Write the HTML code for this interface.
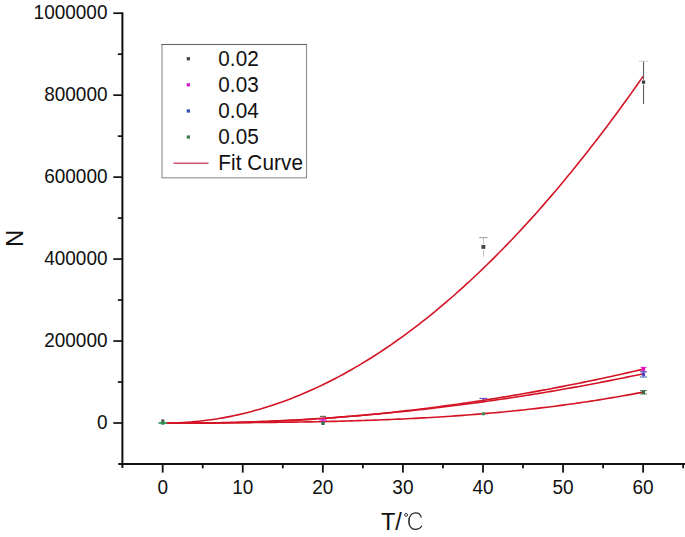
<!DOCTYPE html>
<html><head><meta charset="utf-8"><style>
html,body{margin:0;padding:0;background:#fff;}
body{width:685px;height:537px;overflow:hidden;position:relative;}
svg{position:absolute;left:0;top:0;}
text{font-family:"Liberation Sans",sans-serif;fill:#111;}
.yl{font-size:19px;text-anchor:end;}
.xl{font-size:19px;text-anchor:middle;}
.lg{font-size:20.7px;letter-spacing:0.1px;}
.yt{font-size:24px;text-anchor:middle;}
.xt{font-size:23.5px;}
</style></head><body>
<svg width="685" height="537" viewBox="0 0 685 537">
<rect x="121.4" y="12.3" width="2" height="455.6" fill="#111"/>
<rect x="118.3" y="463" width="567" height="2" fill="#111"/>
<rect x="113.3" y="422.15" width="9" height="1.7" fill="#111"/>
<text transform="translate(107.5,428.60) scale(1,1.055)" class="yl">0</text>
<rect x="117.8" y="381.17" width="4.5" height="1.7" fill="#111"/>
<rect x="113.3" y="340.19" width="9" height="1.7" fill="#111"/>
<text transform="translate(107.5,346.64) scale(1,1.055)" class="yl">200000</text>
<rect x="117.8" y="299.21" width="4.5" height="1.7" fill="#111"/>
<rect x="113.3" y="258.23" width="9" height="1.7" fill="#111"/>
<text transform="translate(107.5,264.68) scale(1,1.055)" class="yl">400000</text>
<rect x="117.8" y="217.25" width="4.5" height="1.7" fill="#111"/>
<rect x="113.3" y="176.27" width="9" height="1.7" fill="#111"/>
<text transform="translate(107.5,182.72) scale(1,1.055)" class="yl">600000</text>
<rect x="117.8" y="135.29" width="4.5" height="1.7" fill="#111"/>
<rect x="113.3" y="94.31" width="9" height="1.7" fill="#111"/>
<text transform="translate(107.5,100.76) scale(1,1.055)" class="yl">800000</text>
<rect x="117.8" y="53.33" width="4.5" height="1.7" fill="#111"/>
<rect x="113.3" y="12.35" width="9" height="1.7" fill="#111"/>
<text transform="translate(107.5,18.80) scale(1,1.055)" class="yl">1000000</text>
<rect x="161.80" y="464" width="1.8" height="8.6" fill="#111"/>
<text transform="translate(162.70,494) scale(1,1.055)" class="xl">0</text>
<rect x="201.83" y="464" width="1.8" height="4.3" fill="#111"/>
<rect x="241.87" y="464" width="1.8" height="8.6" fill="#111"/>
<text transform="translate(242.77,494) scale(1,1.055)" class="xl">10</text>
<rect x="281.90" y="464" width="1.8" height="4.3" fill="#111"/>
<rect x="321.94" y="464" width="1.8" height="8.6" fill="#111"/>
<text transform="translate(322.84,494) scale(1,1.055)" class="xl">20</text>
<rect x="361.98" y="464" width="1.8" height="4.3" fill="#111"/>
<rect x="402.01" y="464" width="1.8" height="8.6" fill="#111"/>
<text transform="translate(402.91,494) scale(1,1.055)" class="xl">30</text>
<rect x="442.05" y="464" width="1.8" height="4.3" fill="#111"/>
<rect x="482.08" y="464" width="1.8" height="8.6" fill="#111"/>
<text transform="translate(482.98,494) scale(1,1.055)" class="xl">40</text>
<rect x="522.12" y="464" width="1.8" height="4.3" fill="#111"/>
<rect x="562.15" y="464" width="1.8" height="8.6" fill="#111"/>
<text transform="translate(563.05,494) scale(1,1.055)" class="xl">50</text>
<rect x="602.19" y="464" width="1.8" height="4.3" fill="#111"/>
<rect x="642.22" y="464" width="1.8" height="8.6" fill="#111"/>
<text transform="translate(643.12,494) scale(1,1.055)" class="xl">60</text>
<rect x="682.25" y="464" width="1.8" height="4.3" fill="#111"/>
<text transform="translate(23.2,238.4) rotate(-90)" class="yt">N</text>
<text x="381" y="529.6" class="xt">T/</text>
<circle cx="406.1" cy="514.9" r="1.45" fill="none" stroke="#333" stroke-width="1.0"/>
<path d="M421.3,517.6 C420.8,514.5 418.3,512.9 415.3,512.9 C411.2,512.9 408.8,516.6 408.8,521.2 C408.8,526.0 411.4,529.4 415.2,529.4 C418.4,529.4 420.6,528.0 421.8,525.8" fill="none" stroke="#222" stroke-width="1.15"/>
<path d="M409.3,518 C409.1,520 409.1,522.5 409.3,524.5" fill="none" stroke="#222" stroke-width="0.8"/>
<rect x="162" y="44.5" width="144.5" height="133.3" fill="#fff" stroke="#8c8c8c" stroke-width="1.1"/>
<rect x="161.5" y="44" width="145.5" height="1" fill="#646464"/>
<rect x="186.7" y="57.10" width="3.3" height="3.3" fill="#454545"/>
<text transform="translate(218.2,65.70) scale(1,1.04)" class="lg">0.02</text>
<rect x="186.7" y="83.20" width="3.3" height="3.3" fill="#cc22cc"/>
<text transform="translate(218.2,91.70) scale(1,1.04)" class="lg">0.03</text>
<rect x="186.7" y="109.30" width="3.3" height="3.3" fill="#3355bb"/>
<text transform="translate(218.2,117.70) scale(1,1.04)" class="lg">0.04</text>
<rect x="186.7" y="135.40" width="3.3" height="3.3" fill="#3f7f55"/>
<text transform="translate(218.2,143.70) scale(1,1.04)" class="lg">0.05</text>
<rect x="173.5" y="162.6" width="35" height="1.2" fill="#c23050"/>
<text transform="translate(218.2,169.7) scale(1,1.04)" class="lg">Fit Curve</text>
<path d="M162.70,423.00 L166.70,423.00 L170.71,422.96 L174.71,422.87 L178.71,422.72 L182.72,422.53 L186.72,422.28 L190.72,421.99 L194.73,421.65 L198.73,421.26 L202.73,420.82 L206.74,420.33 L210.74,419.79 L214.75,419.20 L218.75,418.56 L222.75,417.87 L226.76,417.13 L230.76,416.35 L234.76,415.51 L238.77,414.63 L242.77,413.69 L246.77,412.71 L250.78,411.68 L254.78,410.60 L258.78,409.47 L262.79,408.29 L266.79,407.06 L270.79,405.78 L274.80,404.45 L278.80,403.08 L282.80,401.65 L286.81,400.18 L290.81,398.66 L294.82,397.09 L298.82,395.47 L302.82,393.80 L306.83,392.08 L310.83,390.32 L314.83,388.50 L318.84,386.64 L322.84,384.73 L326.84,382.77 L330.85,380.76 L334.85,378.70 L338.85,376.59 L342.86,374.44 L346.86,372.23 L350.86,369.98 L354.87,367.68 L358.87,365.33 L362.88,362.93 L366.88,360.49 L370.88,358.00 L374.89,355.45 L378.89,352.86 L382.89,350.22 L386.90,347.54 L390.90,344.80 L394.90,342.02 L398.91,339.18 L402.91,336.30 L406.91,333.38 L410.92,330.40 L414.92,327.38 L418.92,324.30 L422.93,321.18 L426.93,318.02 L430.93,314.80 L434.94,311.53 L438.94,308.22 L442.94,304.86 L446.95,301.45 L450.95,298.00 L454.96,294.49 L458.96,290.94 L462.96,287.34 L466.97,283.70 L470.97,280.00 L474.97,276.26 L478.98,272.47 L482.98,268.63 L486.98,264.75 L490.99,260.81 L494.99,256.83 L498.99,252.80 L503.00,248.73 L507.00,244.61 L511.00,240.44 L515.01,236.22 L519.01,231.95 L523.01,227.64 L527.02,223.28 L531.02,218.87 L535.03,214.42 L539.03,209.91 L543.03,205.37 L547.04,200.77 L551.04,196.12 L555.04,191.43 L559.05,186.70 L563.05,181.91 L567.05,177.08 L571.06,172.20 L575.06,167.27 L579.06,162.30 L583.07,157.28 L587.07,152.21 L591.07,147.10 L595.08,141.93 L599.08,136.73 L603.09,131.47 L607.09,126.17 L611.09,120.82 L615.10,115.42 L619.10,109.98 L623.10,104.49 L627.11,98.96 L631.11,93.37 L635.11,87.74 L639.12,82.07 L643.12,76.34" fill="none" stroke="#d41424" stroke-width="1.6"/>
<path d="M162.70,423.00 L166.70,423.00 L170.71,423.00 L174.71,423.00 L178.71,423.00 L182.72,423.00 L186.72,423.23 L190.72,423.23 L194.73,423.23 L198.73,423.22 L202.73,423.20 L206.74,423.17 L210.74,423.13 L214.75,423.08 L218.75,423.03 L222.75,422.96 L226.76,422.89 L230.76,422.81 L234.76,422.72 L238.77,422.62 L242.77,422.51 L246.77,422.39 L250.78,422.27 L254.78,422.13 L258.78,421.99 L262.79,421.84 L266.79,421.68 L270.79,421.51 L274.80,421.33 L278.80,421.14 L282.80,420.94 L286.81,420.74 L290.81,420.53 L294.82,420.31 L298.82,420.08 L302.82,419.84 L306.83,419.59 L310.83,419.33 L314.83,419.07 L318.84,418.80 L322.84,418.52 L326.84,418.23 L330.85,417.93 L334.85,417.62 L338.85,417.30 L342.86,416.98 L346.86,416.65 L350.86,416.31 L354.87,415.96 L358.87,415.60 L362.88,415.23 L366.88,414.86 L370.88,414.47 L374.89,414.08 L378.89,413.68 L382.89,413.27 L386.90,412.86 L390.90,412.43 L394.90,412.00 L398.91,411.55 L402.91,411.10 L406.91,410.64 L410.92,410.18 L414.92,409.70 L418.92,409.22 L422.93,408.73 L426.93,408.23 L430.93,407.72 L434.94,407.20 L438.94,406.68 L442.94,406.14 L446.95,405.60 L450.95,405.05 L454.96,404.49 L458.96,403.93 L462.96,403.35 L466.97,402.77 L470.97,402.18 L474.97,401.58 L478.98,400.97 L482.98,400.36 L486.98,399.74 L490.99,399.10 L494.99,398.46 L498.99,397.82 L503.00,397.16 L507.00,396.50 L511.00,395.83 L515.01,395.15 L519.01,394.46 L523.01,393.76 L527.02,393.06 L531.02,392.35 L535.03,391.63 L539.03,390.90 L543.03,390.16 L547.04,389.42 L551.04,388.67 L555.04,387.91 L559.05,387.14 L563.05,386.37 L567.05,385.58 L571.06,384.79 L575.06,383.99 L579.06,383.19 L583.07,382.37 L587.07,381.55 L591.07,380.72 L595.08,379.88 L599.08,379.03 L603.09,378.18 L607.09,377.32 L611.09,376.45 L615.10,375.57 L619.10,374.68 L623.10,373.79 L627.11,372.89 L631.11,371.98 L635.11,371.07 L639.12,370.14 L643.12,369.21" fill="none" stroke="#d41424" stroke-width="1.6"/>
<path d="M162.70,423.00 L166.70,423.00 L170.71,423.00 L174.71,423.00 L178.71,423.00 L182.72,423.00 L186.72,423.04 L190.72,423.02 L194.73,422.99 L198.73,422.96 L202.73,422.92 L206.74,422.87 L210.74,422.81 L214.75,422.75 L218.75,422.68 L222.75,422.60 L226.76,422.51 L230.76,422.42 L234.76,422.32 L238.77,422.21 L242.77,422.10 L246.77,421.98 L250.78,421.85 L254.78,421.71 L258.78,421.57 L262.79,421.41 L266.79,421.26 L270.79,421.09 L274.80,420.92 L278.80,420.74 L282.80,420.55 L286.81,420.35 L290.81,420.15 L294.82,419.94 L298.82,419.72 L302.82,419.50 L306.83,419.27 L310.83,419.03 L314.83,418.78 L318.84,418.53 L322.84,418.27 L326.84,418.00 L330.85,417.72 L334.85,417.44 L338.85,417.15 L342.86,416.85 L346.86,416.55 L350.86,416.23 L354.87,415.91 L358.87,415.59 L362.88,415.25 L366.88,414.91 L370.88,414.56 L374.89,414.21 L378.89,413.84 L382.89,413.47 L386.90,413.10 L390.90,412.71 L394.90,412.32 L398.91,411.92 L402.91,411.51 L406.91,411.10 L410.92,410.68 L414.92,410.25 L418.92,409.81 L422.93,409.37 L426.93,408.92 L430.93,408.46 L434.94,408.00 L438.94,407.52 L442.94,407.04 L446.95,406.56 L450.95,406.06 L454.96,405.56 L458.96,405.05 L462.96,404.54 L466.97,404.01 L470.97,403.48 L474.97,402.95 L478.98,402.40 L482.98,401.85 L486.98,401.29 L490.99,400.72 L494.99,400.15 L498.99,399.57 L503.00,398.98 L507.00,398.38 L511.00,397.78 L515.01,397.17 L519.01,396.55 L523.01,395.93 L527.02,395.29 L531.02,394.66 L535.03,394.01 L539.03,393.36 L543.03,392.69 L547.04,392.03 L551.04,391.35 L555.04,390.67 L559.05,389.98 L563.05,389.28 L567.05,388.58 L571.06,387.87 L575.06,387.15 L579.06,386.42 L583.07,385.69 L587.07,384.95 L591.07,384.20 L595.08,383.44 L599.08,382.68 L603.09,381.91 L607.09,381.14 L611.09,380.35 L615.10,379.56 L619.10,378.76 L623.10,377.96 L627.11,377.14 L631.11,376.33 L635.11,375.50 L639.12,374.66 L643.12,373.82" fill="none" stroke="#d41424" stroke-width="1.6"/>
<path d="M162.70,423.00 L166.70,422.98 L170.71,422.97 L174.71,422.95 L178.71,422.94 L182.72,422.92 L186.72,422.91 L190.72,422.90 L194.73,422.88 L198.73,422.87 L202.73,422.85 L206.74,422.83 L210.74,422.82 L214.75,422.80 L218.75,422.78 L222.75,422.76 L226.76,422.74 L230.76,422.72 L234.76,422.70 L238.77,422.67 L242.77,422.64 L246.77,422.62 L250.78,422.59 L254.78,422.55 L258.78,422.52 L262.79,422.48 L266.79,422.45 L270.79,422.40 L274.80,422.36 L278.80,422.31 L282.80,422.27 L286.81,422.21 L290.81,422.16 L294.82,422.10 L298.82,422.04 L302.82,421.98 L306.83,421.91 L310.83,421.84 L314.83,421.76 L318.84,421.68 L322.84,421.60 L326.84,421.51 L330.85,421.42 L334.85,421.33 L338.85,421.23 L342.86,421.12 L346.86,421.02 L350.86,420.90 L354.87,420.78 L358.87,420.66 L362.88,420.53 L366.88,420.40 L370.88,420.26 L374.89,420.12 L378.89,419.97 L382.89,419.81 L386.90,419.65 L390.90,419.48 L394.90,419.31 L398.91,419.13 L402.91,418.95 L406.91,418.76 L410.92,418.56 L414.92,418.35 L418.92,418.14 L422.93,417.92 L426.93,417.70 L430.93,417.47 L434.94,417.23 L438.94,416.98 L442.94,416.73 L446.95,416.47 L450.95,416.20 L454.96,415.92 L458.96,415.64 L462.96,415.35 L466.97,415.05 L470.97,414.74 L474.97,414.42 L478.98,414.10 L482.98,413.76 L486.98,413.42 L490.99,413.07 L494.99,412.71 L498.99,412.34 L503.00,411.96 L507.00,411.57 L511.00,411.18 L515.01,410.77 L519.01,410.36 L523.01,409.93 L527.02,409.50 L531.02,409.05 L535.03,408.60 L539.03,408.13 L543.03,407.66 L547.04,407.17 L551.04,406.67 L555.04,406.17 L559.05,405.65 L563.05,405.12 L567.05,404.58 L571.06,404.03 L575.06,403.47 L579.06,402.90 L583.07,402.31 L587.07,401.72 L591.07,401.11 L595.08,400.49 L599.08,399.86 L603.09,399.22 L607.09,398.56 L611.09,397.89 L615.10,397.21 L619.10,396.52 L623.10,395.82 L627.11,395.10 L631.11,394.37 L635.11,393.63 L639.12,392.87 L643.12,392.10" fill="none" stroke="#d41424" stroke-width="1.6"/>
<rect x="482.98" y="237.60" width="0.8" height="19.00" fill="#b4b4b4"/><rect x="479.18" y="237.10" width="8.4" height="1" fill="#9a9a9a"/>
<rect x="480.63" y="244.15" width="5.5" height="5.5" fill="#fff"/><rect x="481.43" y="244.95" width="3.9" height="3.9" fill="#474747"/>
<rect x="642.97" y="61.20" width="1.1" height="42.80" fill="#5c5c5c"/><rect x="638.92" y="60.70" width="9.2" height="1" fill="#cfcfcf"/>
<rect x="641.07" y="79.65" width="4.9" height="4.9" fill="#fff"/><rect x="641.87" y="80.45" width="3.3" height="3.3" fill="#383c38"/>
<rect x="320.04" y="415.8" width="6" height="1.2" fill="#6a6a58"/>
<rect x="643.02" y="367.40" width="1" height="4.20" fill="#d020d0"/><rect x="640.52" y="366.90" width="6" height="1" fill="#d020d0"/><rect x="640.52" y="371.10" width="6" height="1" fill="#d020d0"/>
<rect x="641.82" y="367.30" width="3.4" height="3.4" fill="#e010c0"/>
<rect x="319.24" y="419.1" width="7.6" height="1.7" fill="#e050e0"/>
<rect x="321.54" y="418.50" width="3" height="3" fill="#e030d0"/>
<rect x="643.02" y="371.80" width="1" height="5.20" fill="#4060c0"/><rect x="640.02" y="371.30" width="7" height="1" fill="#4060c0"/><rect x="640.02" y="376.50" width="7" height="1" fill="#4060c0"/>
<rect x="641.92" y="372.70" width="3.2" height="3.2" fill="#5040c0"/>
<rect x="482.78" y="398.40" width="1.2" height="2.20" fill="#6040c0"/><rect x="479.38" y="397.90" width="8" height="1" fill="#6040c0"/>
<rect x="643.02" y="390.60" width="1" height="3.40" fill="#408050"/><rect x="640.02" y="390.10" width="7" height="1" fill="#408050"/><rect x="640.02" y="393.50" width="7" height="1" fill="#408050"/>
<rect x="642.02" y="390.80" width="3" height="3" fill="#406040"/>
<rect x="481.88" y="412.30" width="3" height="3" fill="#3f8a50"/>
<rect x="321.34" y="421.60" width="3.4" height="3.4" fill="#307a50"/>
<rect x="161.30" y="419.40" width="3.0" height="3.0" fill="#505050"/>
<rect x="158.50" y="422.1" width="8.6" height="1.8" fill="#40a060"/>
<rect x="161.10" y="421.30" width="3.4" height="3.4" fill="#2f8a55"/>
</svg>
</body></html>
